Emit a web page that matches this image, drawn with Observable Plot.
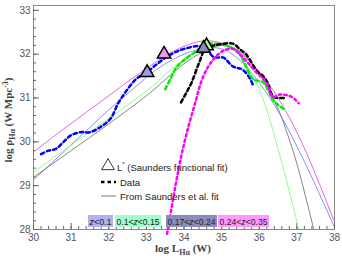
<!DOCTYPE html>
<html><head><meta charset="utf-8">
<script src="https://cdn.jsdelivr.net/npm/d3@7"></script>
<script src="https://cdn.jsdelivr.net/npm/@observablehq/plot@0.6"></script>
<style>body{margin:0;background:#fff}</style>
</head><body><div id="chart"></div>
<script>
// Saunders fit curves [log L, log rho]
const fitZ1 = [[30,29.13],[30.5,29.53],[31,29.93],[31.5,30.33],[32,30.73],[32.5,31.1],[33,31.47],[33.5,31.78],[34,32.0],[34.5,32.13],[35,32.12],[35.5,31.85],[36,31.35],[36.5,30.7],[37,29.9],[37.5,29.0],[38,28.05]];
const fitZ2 = [[30,29.31],[31,29.92],[32,30.53],[33,31.16],[33.5,31.53],[34,31.88],[34.5,32.13],[35,32.2],[35.5,31.95],[36,31.2],[36.35,30.3],[36.7,29.2],[37.05,28.0]];
const fitZ3 = [[30,29.19],[31,29.8],[32,30.41],[33,31.05],[33.5,31.42],[34,31.78],[34.5,32.05],[35,32.2],[35.5,32.05],[36,31.55],[36.5,30.75],[36.7,30.3],[37,29.5],[37.45,28.0]];
const fitZ4 = [[30,29.77],[31,30.42],[32,31.05],[32.5,31.37],[33,31.67],[33.5,31.96],[34,32.18],[34.5,32.3],[35,32.25],[35.5,32.02],[36,31.6],[36.5,31.0],[37,30.22],[37.5,29.25],[38,28.17]];
// Data
const dataZ1 = [[30.2,29.72],[30.4,29.8],[30.6,29.84],[30.8,30.0],[31.0,30.15],[31.25,30.22],[31.5,30.22],[31.8,30.35],[32.05,30.53],[32.25,30.88],[32.5,31.2],[32.75,31.45],[33.0,31.58],[33.25,31.75],[33.6,31.97],[34.0,32.12],[34.45,32.18],[34.6,32.1],[34.8,31.93],[35.05,31.92],[35.3,31.72],[35.55,31.65],[35.75,31.45],[35.83,31.3]];
const dataZ2 = [[33.5,31.2],[33.65,31.45],[33.8,31.7],[34.05,31.9],[34.3,32.05],[34.55,32.22],[34.8,32.24],[35.1,32.2],[35.4,32.08],[35.55,31.9],[35.7,31.62],[35.85,31.42],[36.1,31.36],[36.25,31.15],[36.4,30.92],[36.65,30.75]];
const dataZ3 = [[33.92,30.9],[34.05,31.1],[34.2,31.35],[34.4,31.8],[34.57,32.12],[34.8,32.2],[35.0,32.23],[35.3,32.24],[35.5,32.1],[35.65,32.0],[35.95,31.6],[36.1,31.5],[36.22,31.35],[36.38,31.03],[36.65,31.0]];
const dataZ4 = [[33.55,27.9],[33.7,28.65],[33.85,29.35],[34.0,29.95],[34.15,30.45],[34.3,30.9],[34.45,31.35],[34.6,31.65],[34.8,31.9],[35.05,32.08],[35.3,32.12],[35.5,31.98],[35.7,31.8],[35.95,31.56],[36.1,31.45],[36.25,31.25],[36.36,31.02],[36.55,31.08],[36.85,31.03],[37.05,30.88]];
// L* points
const lstarL = [33.02, 33.47, 34.6, 34.52];
const lstarV = [31.58, 32.0, 32.19, 32.13];
const lstarFill = ["#9c9cdc", "#ee99ee", "#aaffaa", "#8a8ab8"];
const xTicks = [30,31,32,33,34,35,36,37,38];
const yTicks = [28,29,30,31,32,33];
const binLabels = ["z<0.1","0.1<z<0.15","0.17<z<0.24","0.24<z<0.35"];
const binColors = ["#b0b0f2","#a0ffc8","#8c8cbc","#ff99ff"];
const fitColors = ["#7f7fff","#80ff80","#777777","#dd55dd"];
const dataColors = ["#0000ff","#00ee00","#000000","#ff00ff"];

const W = 342, H = 260, mL = 33, mR = 8, mT = 5, mB = 31;
const innerW = W - mL - mR, innerH = H - mT - mB;
const xMinor = d3.range(30, 38.001, 0.2).map(v => +v.toFixed(1));
const yMinor = d3.range(28, 33.001, 0.2).map(v => +v.toFixed(1));
const fits = [fitZ1, fitZ2, fitZ3, fitZ4];
const datas = [dataZ1, dataZ2, dataZ3, dataZ4];
const lstar = lstarL.map((l, i) => ({l, v: lstarV[i], f: lstarFill[i]}));

const marks = [
  Plot.frame({stroke: "#888"}),
  Plot.tickX(xMinor, {x: d => d, insetTop: innerH - 3, stroke: "#666"}),
  Plot.tickX(xTicks, {x: d => d, insetTop: innerH - 6, stroke: "#666"}),
  Plot.tickY(yMinor, {y: d => d, insetRight: innerW - 3, stroke: "#666"}),
  Plot.tickY(yTicks, {y: d => d, insetRight: innerW - 6, stroke: "#666"}),
  Plot.axisX({ticks: xTicks, tickFormat: d => String(d), tickSize: 0, tickPadding: 4, fontSize: 10, color: "#555", label: null}),
  Plot.axisY({ticks: yTicks, tickFormat: d => String(d), tickSize: 0, tickPadding: 3, fontSize: 10, color: "#555", label: null}),
];
fits.forEach((f, i) => marks.push(Plot.line(f, {x: d => d[0], y: d => d[1], stroke: fitColors[i], strokeWidth: 0.9, curve: "natural", clip: true})));
datas.forEach((f, i) => marks.push(Plot.line(f, {x: d => d[0], y: d => d[1], stroke: dataColors[i], strokeWidth: 2.5, strokeDasharray: i === 3 ? "2.5,3" : "3.5,3", curve: "catmull-rom"})));
marks.push(Plot.dot(lstar, {x: "l", y: "v", symbol: "triangle", r: 5, fill: "f", stroke: "black", strokeWidth: 1.5}));

const svgPlot = Plot.plot({
  width: W, height: H, marginLeft: mL, marginRight: mR, marginTop: mT, marginBottom: mB,
  x: {domain: [30, 38]}, y: {domain: [28, 33.11]},
  style: {background: "white", fontFamily: "'Liberation Sans', Arial, sans-serif"},
  marks
});
document.getElementById("chart").appendChild(svgPlot);
const svg = d3.select(svgPlot);

// axis labels
const xl = svg.append("text").attr("x", 183).attr("y", 252).attr("text-anchor", "middle")
  .attr("font-family", "'Liberation Serif', 'DejaVu Serif', serif").attr("font-weight", "bold").attr("font-size", 11).attr("fill", "#444");
xl.append("tspan").text("log L");
xl.append("tspan").attr("font-size", 8).attr("dy", 3).text("Hα");
xl.append("tspan").attr("dy", -3).text(" (W)");
const yl = svg.append("text").attr("transform", "translate(12,120) rotate(-90)").attr("text-anchor", "middle")
  .attr("font-family", "'Liberation Serif', 'DejaVu Serif', serif").attr("font-weight", "bold").attr("font-size", 11).attr("fill", "#444");
yl.append("tspan").text("log ρ");
yl.append("tspan").attr("font-size", 8).attr("dy", 3).text("Hα");
yl.append("tspan").attr("dy", -3).text(" (W Mpc");
yl.append("tspan").attr("font-size", 8).attr("dy", -4).text("-3");
yl.append("tspan").attr("dy", 4).text(")");

// legend
const lg = svg.append("g").attr("font-family", "'Liberation Sans', Arial, sans-serif").attr("font-size", 9.5).attr("fill", "#222").attr("text-anchor", "start");
lg.append("path").attr("d", d3.symbol(d3.symbolTriangle, 70)()).attr("transform", "translate(108,166)").attr("fill", "white").attr("stroke", "#333").attr("stroke-width", 1);
const t1 = lg.append("text").attr("x", 117).attr("y", 171);
t1.append("tspan").text("L");
t1.append("tspan").attr("font-size", 6).attr("dy", -5).text("*");
t1.append("tspan").attr("dy", 5).text(" (Saunders functional fit)");
lg.append("line").attr("x1", 101).attr("x2", 116).attr("y1", 182).attr("y2", 182).attr("stroke", "#000").attr("stroke-width", 2.5).attr("stroke-dasharray", "3.5,3");
lg.append("text").attr("x", 120).attr("y", 185.5).text("Data");
lg.append("line").attr("x1", 101).attr("x2", 116).attr("y1", 196).attr("y2", 196).attr("stroke", "#666").attr("stroke-width", 0.9);
lg.append("text").attr("x", 120).attr("y", 199.5).text("From Saunders et al. fit");

// redshift bin labels
const boxX = [88, 115, 166, 218];
const boxW = [25, 46, 51, 51];
binLabels.forEach((s, i) => {
  lg.append("rect").attr("x", boxX[i]).attr("y", 215).attr("width", boxW[i]).attr("height", 12).attr("fill", binColors[i]);
  const t = lg.append("text").attr("x", boxX[i] + boxW[i] / 2).attr("y", 224.5).attr("font-size", 9).attr("text-anchor", "middle")
    .attr("textLength", boxW[i] - 3).attr("lengthAdjust", "spacingAndGlyphs");
  const parts = s.split("z");
  t.append("tspan").text(parts[0]);
  t.append("tspan").attr("font-style", "italic").text("z");
  t.append("tspan").text(parts[1]);
});
</script></body></html>
